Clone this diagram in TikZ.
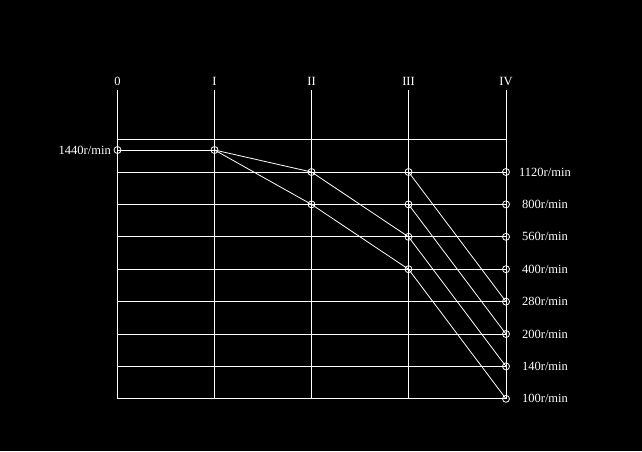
\documentclass[tikz,border=0pt]{standalone}
\usepackage{fontspec}
\setmainfont{Liberation Serif}
\begin{document}
\begin{tikzpicture}[x=1pt,y=-1pt,
  grid/.style={draw=white,line width=1pt},
  diag/.style={draw=white,line width=0.8pt},
  pt/.style={circle,draw=white,line width=0.8pt,minimum size=7pt,inner sep=0pt},
  lbl/.style={text=white,font=\fontsize{12.5}{14}\selectfont,inner sep=0pt},
  ]
\fill[black] (0,0) rectangle (642,451);
\useasboundingbox (0,0) rectangle (642,451);
% column x
\def\xa{117.5}\def\xb{214.5}\def\xc{311.5}\def\xd{408.5}\def\xe{506}
% vertical lines
\foreach \x/\n/\t in {117.5/c0/0,214.5/c1/I,311.5/c2/II,408.5/c3/III,506/c4/IV}{
  \coordinate (\n top) at (\x,90);
  \coordinate (\n bot) at (\x,399);
  \draw[grid] (\n top) -- (\n bot);
  \node[lbl] (\n lab) at (\x,81) {\t};
}
% top line
\coordinate (tl) at (\xa,139.3);
\coordinate (tr) at (\xe,139.3);
\draw[grid] (tl) -- (tr);
% level lines
\foreach \y/\n in {172/r1,204.4/r2,236.8/r3,269.2/r4,301.6/r5,334/r6,366.4/r7,398.8/r8}{
  \coordinate (\n l) at (\xa,\y);
  \coordinate (\n r) at (\xe,\y);
  \draw[grid] (\n l) -- (\n r);
}
% points
\node[pt] (p0) at (\xa,150) {};
\node[pt] (p1) at (\xb,150) {};
\draw[grid] (p0.center) -- (p1.center);
\node[pt] (q1) at (\xc,172) {};
\node[pt] (q2) at (\xc,204.4) {};
\node[pt] (s1) at (\xd,172) {};
\node[pt] (s2) at (\xd,204.4) {};
\node[pt] (s3) at (\xd,236.8) {};
\node[pt] (s4) at (\xd,269.2) {};
\foreach \y/\n/\t in {172/e1/1120,204.4/e2/800,236.8/e3/560,269.2/e4/400,301.6/e5/280,334/e6/200,366.4/e7/140,398.8/e8/100}{
  \node[pt] (\n) at (\xe,\y) {};
  \node[lbl] (\n lab) at (545,\y) {\t r/min};
}
\node[lbl,anchor=east] (p0lab) at (111,150) {1440r/min};
% diagonals
\draw[diag] (p1.center) -- (q1.center);
\draw[diag] (p1.center) -- (q2.center);
\draw[diag] (q1.center) -- (s3.center);
\draw[diag] (q2.center) -- (s4.center);
\draw[diag] (s1.center) -- (e5.center);
\draw[diag] (s2.center) -- (e6.center);
\draw[diag] (s3.center) -- (e7.center);
\draw[diag] (s4.center) -- (e8.center);
\end{tikzpicture}
\end{document}
